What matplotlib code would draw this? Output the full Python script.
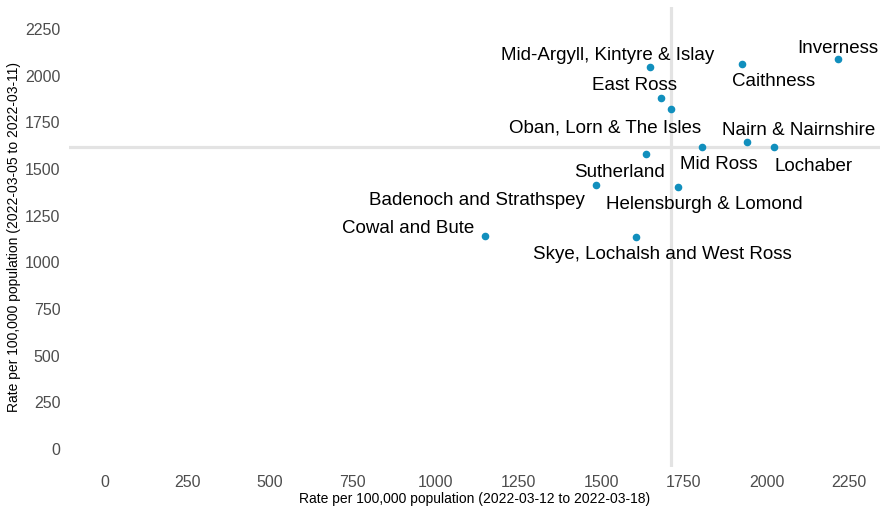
import numpy as np
import matplotlib.pyplot as plt

plt.rcParams['font.family'] = ['Liberation Sans', 'DejaVu Sans']

areas = ['Mid-Argyll, Kintyre & Islay', 'Caithness', 'Inverness', 'East Ross',
         'Oban, Lorn & The Isles', 'Nairn & Nairnshire', 'Mid Ross', 'Lochaber',
         'Sutherland', 'Badenoch and Strathspey', 'Helensburgh & Lomond',
         'Cowal and Bute', 'Skye, Lochalsh and West Ross']
rate_recent = [1648, 1927, 2216, 1682, 1710, 1941, 1806, 2024, 1636, 1486, 1733, 1149, 1606]
rate_prev = [2044, 2064, 2087, 1882, 1821, 1643, 1618, 1618, 1582, 1414, 1405, 1143, 1136]
# label offsets in pixels (repel-style placement)
offsets = [(-42, 12), (31, -18), (0, 11), (-27, 12), (-65, -19), (52, 12), (17, -18),
           (39, -20), (-27, -19), (-119, -15), (26, -18), (-77, 7), (26, -18)]

fig = plt.figure(figsize=(8.8, 5.12), dpi=100)
ax = fig.add_axes([0.078, 0.088, 0.922, 0.898])

ax.axvline(np.median(rate_recent), color='#e3e3e3', lw=2.3, zorder=1)
ax.axhline(np.median(rate_prev), color='#e3e3e3', lw=2.3, zorder=1)
ax.scatter(rate_recent, rate_prev, s=20, color='#118fbd', zorder=3)

for name, x, y, off in zip(areas, rate_recent, rate_prev, offsets):
    ax.annotate(name, (x, y), xytext=off, textcoords='offset pixels',
                ha='center', va='center', fontsize=13.5, color='black')

ax.set_xlim(-109, 2343)
ax.set_ylim(-96, 2367)
ax.set_xticks(np.arange(0, 2251, 250))
ax.set_yticks(np.arange(0, 2251, 250))
ax.tick_params(length=0, labelsize=11.5, labelcolor='#4d4d4d', pad=6)
for s in ax.spines.values():
    s.set_visible(False)
ax.set_xlabel('Rate per 100,000 population (2022-03-12 to 2022-03-18)', fontsize=10, labelpad=1)
ax.set_ylabel('Rate per 100,000 population (2022-03-05 to 2022-03-11)', fontsize=10, labelpad=3)

fig.savefig('out.png', dpi=100)
